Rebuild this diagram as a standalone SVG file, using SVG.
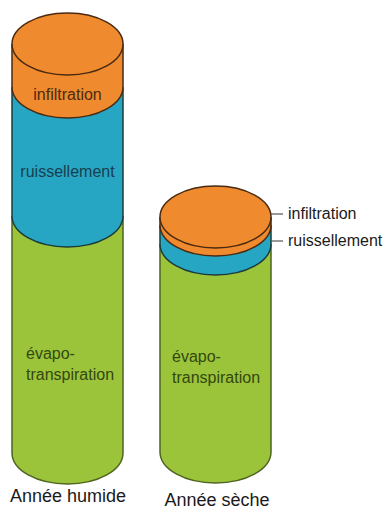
<svg xmlns="http://www.w3.org/2000/svg" width="387" height="511" viewBox="0 0 387 511">
<style>
.or{fill:#F08A2E;stroke:#4a2a10;stroke-width:1.5}
.bl{fill:#27A6C4;stroke:#1c3c3c;stroke-width:1.5}
.gr{fill:#9BC43B;stroke:#4f6420;stroke-width:1.5}
.t{font-family:"Liberation Sans",Arial,sans-serif;font-size:16px}
.ti{fill:#4e2a0e}
.tr{fill:#173f4e}
.te{fill:#33480f}
.lab{fill:#1a1a1a;font-size:16px}
.cap{fill:#1a1a1a;font-size:18px}
.ld{stroke:#555;stroke-width:1.2}
</style>
<rect width="387" height="511" fill="#fff"/>
<g id="cyl-humide">
<path class="gr" d="M12,216 V453 A55.5,31 0 0 0 123,453 V216"/>
<path class="bl" d="M12,87 V216 A55.5,31 0 0 0 123,216 V87"/>
<path class="or" d="M12,44 V87 A55.5,31 0 0 0 123,87 V44"/>
<ellipse class="or" cx="67.5" cy="44" rx="55.5" ry="31"/>
<text class="t ti" x="67.5" y="100" text-anchor="middle">infiltration</text>
<text class="t tr" x="67.5" y="177" text-anchor="middle">ruissellement</text>
<text class="t te" x="26" y="359">évapo-</text>
<text class="t te" x="26" y="380">transpiration</text>
</g>
<g id="cyl-seche">
<path class="gr" d="M160,244 V452 A55.5,31 0 0 0 271,452 V244"/>
<path class="bl" d="M160,225 V244 A55.5,31 0 0 0 271,244 V225"/>
<path class="or" d="M160,217 V225 A55.5,31 0 0 0 271,225 V217"/>
<ellipse class="or" cx="215.5" cy="217" rx="55.5" ry="31"/>
<text class="t te" x="172" y="362">évapo-</text>
<text class="t te" x="172" y="383">transpiration</text>
</g>
<g id="connectors">
<line class="ld" x1="271" y1="214" x2="283" y2="214"/>
<line class="ld" x1="271" y1="241" x2="283" y2="241"/>
</g>
<g id="labels">
<text class="t lab" x="288" y="219">infiltration</text>
<text class="t lab" x="288" y="246">ruissellement</text>
<text class="t cap" x="68" y="502" text-anchor="middle">Année humide</text>
<text class="t cap" x="217" y="506" text-anchor="middle">Année sèche</text>
</g>
</svg>
